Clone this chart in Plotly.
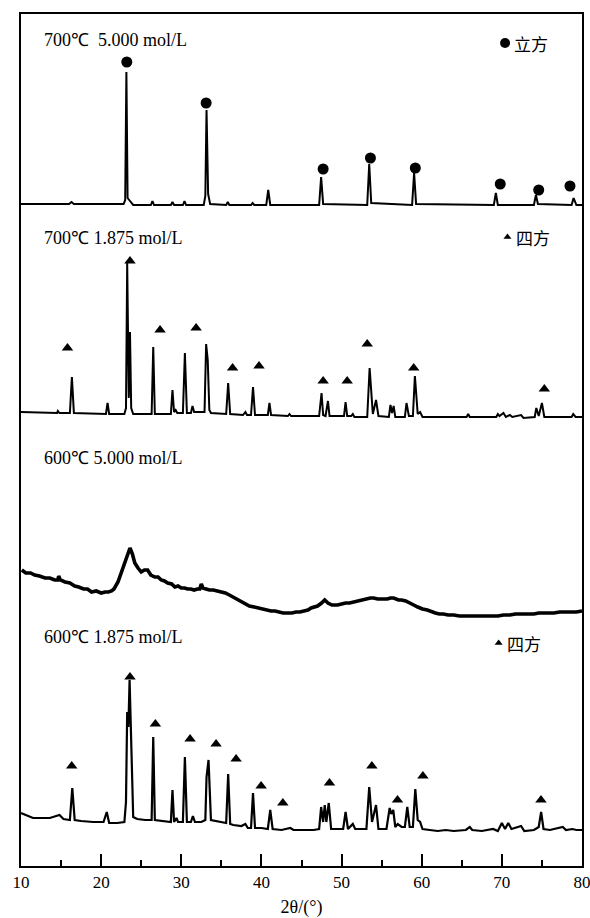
import plotly.graph_objects as go

# ---------------- data (2θ in degrees, intensity in arbitrary units above each pattern's own baseline) ----------------
# 700 °C, 5.000 mol/L
t1_x = [10.0, 16.0, 16.3, 16.6, 22.8, 23.0, 23.15, 23.3, 23.5, 23.7, 24.0, 26.2, 26.4, 26.6, 28.7, 28.9, 29.1,
        30.2, 30.4, 30.6, 32.8, 33.0, 33.15, 33.35, 33.6, 35.6, 35.8, 36.0, 38.7, 38.9, 39.1, 40.6, 40.85, 41.1,
        47.2, 47.45, 47.7, 53.2, 53.45, 53.7, 58.8, 59.05, 59.3, 69.0, 69.25, 69.5, 74.0, 74.25, 74.5, 78.7,
        78.95, 79.3, 80.0]
t1_y = [2, 2, 4, 2, 2, 6, 134, 8, 6, 4, 1, 1, 5, 1, 1, 4, 1,
        1, 5, 1, 1, 10, 96, 12, 2, 1, 4, 1, 1, 3, 1, 1, 16, 1,
        1, 29, 2, 1, 42, 3, 1, 33, 2, 1, 13, 1, 1, 11, 2, 1,
        8, 1, 1]
t1_mark_x = [23.2, 33.1, 47.7, 53.6, 59.2, 69.8, 74.6, 78.5]
t1_mark_y = [144, 103, 37, 48, 38, 22, 16, 20]

# 700 °C, 1.875 mol/L
t2_x = [10.0, 14.5, 14.6, 14.8, 16.1, 16.35, 16.6, 20.6, 20.8, 21.0, 22.9, 23.1, 23.25, 23.45, 23.6, 23.75, 24.0,
        26.3, 26.5, 26.7, 27.8, 28.7, 28.9, 29.1, 29.3, 29.5, 30.2, 30.45, 30.7, 31.2, 31.4, 31.6,
        32.9, 33.1, 33.3, 33.5, 33.7, 35.6, 35.85, 36.1, 37.7, 38.0, 38.2, 38.7, 38.95, 39.2,
        40.8, 41.0, 41.2, 43.3, 43.5, 43.7, 47.2, 47.5, 47.7, 48.0, 48.3, 48.5, 50.3, 50.5, 50.7,
        51.2, 51.4, 51.6, 53.2, 53.5, 53.9, 54.3, 54.6, 55.9, 56.1, 56.3, 56.5, 56.7, 57.9, 58.1, 58.4,
        58.9, 59.15, 59.5, 59.8, 60.1, 65.6, 65.8, 66.0, 69.3, 69.5, 69.7, 70.2, 70.5, 71.0, 71.3, 72.4, 72.7,
        74.1, 74.3, 74.6, 75.0, 75.3, 78.7, 78.9, 79.2, 80.0]
t2_y = [6, 5, 7, 5, 5, 41, 5, 4, 15, 4, 4, 10, 155, 20, 86, 10, 4,
        4, 71, 4, 4, 4, 28, 6, 8, 5, 5, 65, 5, 5, 12, 6,
        6, 74, 58, 8, 5, 4, 35, 4, 3, 6, 3, 3, 31, 3,
        3, 15, 3, 2, 4, 2, 2, 25, 3, 2, 17, 2, 2, 16, 2,
        2, 4, 1, 1, 50, 4, 18, 2, 1, 13, 5, 12, 1, 1, 15, 2,
        2, 42, 4, 6, 1, 1, 4, 1, 1, 4, 2, 5, 1, 3, 1, 3, 0,
        1, 10, 2, 15, 1, 1, 4, 1, 1]
t2_mark_x = [15.8, 23.6, 27.35, 31.85, 36.4, 39.7, 47.7, 50.7, 53.2, 59.0, 75.3]
t2_mark_y = [70, 157, 88, 90, 50, 52, 37, 37, 74, 50, 29]

# 600 °C, 5.000 mol/L (amorphous)
t3_x = [10.1, 10.6, 11.2, 11.7, 12.3, 13.0, 13.6, 14.2, 14.6, 14.7, 14.9, 15.5, 16.1, 16.7, 17.2, 17.8, 18.3,
        18.8, 19.4, 20.0, 20.5, 20.9, 21.3, 21.6, 22.1, 22.5, 22.9, 23.3, 23.6, 23.9,
        24.2, 24.6, 25.0, 25.4, 25.8, 26.2, 26.7, 27.1, 27.5, 27.9, 28.3, 28.8, 29.2, 29.6, 30.0, 30.4,
        30.8, 31.2, 31.6, 32.0, 32.3, 32.5, 32.7, 33.1, 33.5, 34.0, 34.5, 35.0,
        35.5, 36.0, 36.5, 37.0, 37.5, 38.0, 38.5, 39.1, 39.6, 40.1, 40.6, 41.2, 41.7, 42.2, 42.7, 43.2,
        43.8, 44.3, 44.8, 45.3, 45.8, 46.2, 46.6, 47.0, 47.5, 47.9, 48.3, 48.8, 49.2, 49.5,
        50.0, 50.5, 51.0, 51.5, 52.0, 52.5, 53.0, 53.6, 54.0, 54.5, 55.1, 55.7, 56.1, 56.5, 57.1, 57.5,
        58.0, 58.6, 59.0, 59.5, 60.1, 60.7, 61.2, 61.7, 62.2, 62.7, 63.3, 64.0, 64.7, 65.5,
        66.2, 66.9, 67.5, 68.0, 68.7, 69.5, 70.2, 71.0, 71.7, 72.5, 73.2, 74.0, 74.6, 75.2, 75.9, 76.5,
        77.2, 78.0, 78.6, 79.3, 80.0]
t3_y = [50, 47, 47, 45, 44, 42, 42, 40, 40, 44, 40, 38, 37, 34, 33, 31, 31,
        28, 29, 27, 28, 28, 29, 31, 38, 47, 57, 65, 72, 66,
        57, 52, 48, 50, 50, 45, 43, 43, 40, 39, 37, 36, 33, 34, 32, 32,
        31, 31, 30, 31, 31, 36, 32, 31, 30, 30, 29, 28,
        27, 25, 23, 20, 18, 16, 14, 13, 12, 11, 10, 9, 9, 8, 7, 7,
        7, 8, 8, 9, 10, 12, 13, 14, 17, 20, 17, 15, 15, 15,
        16, 17, 17, 18, 19, 20, 21, 22, 22, 21, 21, 21, 22, 22, 20, 20,
        19, 17, 15, 13, 11, 10, 8, 7, 6, 6, 5, 5, 4, 4,
        4, 4, 4, 4, 4, 4, 5, 5, 6, 6, 6, 6, 7, 7, 7, 7,
        8, 8, 8, 8, 9]

# 600 °C, 1.875 mol/L
t4_x = [10.0, 11.5, 13.6, 14.8, 15.3, 16.1, 16.4, 16.7, 17.5, 19.0, 20.3, 20.7, 21.0, 22.0,
        22.9, 23.1, 23.25, 23.4, 23.55, 23.8, 24.0, 24.5, 25.5, 26.3, 26.5, 26.7, 27.5, 28.5, 28.7,
        28.9, 29.1, 29.4, 29.6, 30.2, 30.45, 30.7, 31.2, 31.45, 31.7, 32.5, 33.0, 33.15, 33.4, 33.7,
        35.6, 35.85, 36.1, 36.5, 37.5, 38.0, 38.3, 38.7, 38.95, 39.2, 40.0, 40.8, 41.1, 41.4, 42.5,
        43.6, 44.0, 45.0, 46.5, 47.2, 47.45, 47.7, 47.9, 48.1, 48.4, 48.7, 50.2, 50.5, 50.8, 51.4, 51.7,
        53.1, 53.45, 53.8, 54.3, 54.6, 55.6, 56.0, 56.2, 56.45, 56.7, 57.0, 57.5, 57.9, 58.2, 58.5,
        58.9, 59.2, 59.5, 59.8, 60.1, 61.0, 62.0, 63.0, 64.0, 65.5, 66.0, 66.3, 67.5, 68.9, 69.5,
        70.0, 70.4, 70.8, 71.2, 72.4, 72.8, 74.0, 74.6, 74.9, 75.2, 76.0, 77.6, 78.0, 78.8, 79.3, 80.0]
t4_y = [19, 14, 14, 17, 13, 12, 44, 12, 11, 10, 10, 20, 9, 9,
        10, 30, 120, 105, 152, 60, 15, 13, 12, 12, 95, 12, 11, 10, 10,
        42, 10, 14, 10, 10, 75, 10, 10, 16, 10, 10, 12, 55, 72, 12,
        9, 58, 8, 7, 6, 8, 4, 4, 39, 4, 4, 3, 22, 3, 2,
        4, 2, 2, 2, 3, 25, 10, 27, 10, 29, 3, 3, 20, 3, 8, 3,
        3, 45, 10, 27, 3, 3, 24, 18, 22, 5, 8, 5, 5, 25, 5,
        5, 43, 12, 10, 3, 2, 1, 2, 1, 2, 5, 2, 1, 3, 1,
        9, 3, 9, 3, 6, 1, 2, 5, 20, 3, 2, 5, 2, 3, 2, 2]
t4_mark_x = [16.33, 23.6, 26.77, 31.1, 34.34, 36.84, 39.96, 42.67, 48.49, 53.78, 56.98, 60.15, 74.88]
t4_mark_y = [66, 155, 108, 93, 88, 73, 46, 29, 49, 66, 32, 56, 32]

labels = ["700℃  5.000 mol/L", "700℃ 1.875 mol/L", "600℃ 5.000 mol/L", "600℃ 1.875 mol/L"]
phase_cubic = "立方"
phase_tetra = "四方"
x_ticks = [10, 20, 30, 40, 50, 60, 70, 80]

# ---------------- layout constants (pixel geometry of the stacked panels) ----------------
H = 852  # plot-area height in px; y axis range is in px units from the bottom
offsets = [660, 448, 246, 34]        # baseline of each pattern
label_y = [826, 628, 408, 229]       # label centres
SERIF = "Liberation Serif, Times New Roman, serif"
CJK = "Noto Sans CJK SC"

fig = go.Figure()

def add_line(xs, ys, off, width=2.0):
    fig.add_trace(go.Scatter(x=xs, y=[v + off for v in ys], mode="lines",
                             line=dict(color="black", width=width), hoverinfo="skip"))

def add_marks(xs, ys, off, symbol, size):
    fig.add_trace(go.Scatter(x=xs, y=[v + off for v in ys], mode="markers",
                             marker=dict(symbol=symbol, size=size, color="black",
                                         line=dict(width=0)), hoverinfo="skip"))

add_line(t1_x, t1_y, offsets[0])
add_line(t2_x, t2_y, offsets[1])
add_line(t3_x, t3_y, offsets[2], width=3.6)
add_line(t4_x, t4_y, offsets[3], width=2.2)

add_marks(t1_mark_x, t1_mark_y, offsets[0], "circle", 11)
add_marks(t2_mark_x, t2_mark_y, offsets[1], "triangle-up", 10)
add_marks(t4_mark_x, t4_mark_y, offsets[3], "triangle-up", 10)

# legend-like phase keys
add_marks([70.4], [823 - offsets[0]], offsets[0], "circle", 10)
add_marks([70.7], [629 - offsets[1]], offsets[1], "triangle-up", 7)
add_marks([69.6], [223 - offsets[3]], offsets[3], "triangle-up", 7)

for txt, y in zip(labels, label_y):
    fig.add_annotation(x=12.6, y=y, xref="x", yref="y", text=txt, showarrow=False,
                       xanchor="left", yanchor="middle",
                       font=dict(family=SERIF, size=18, color="black"))

for txt, x, y in [(phase_cubic, 71.3, 823), (phase_tetra, 71.5, 629), (phase_tetra, 70.4, 223)]:
    fig.add_annotation(x=x, y=y, xref="x", yref="y", text=txt, showarrow=False,
                       xanchor="left", yanchor="middle",
                       font=dict(family=CJK, size=17, color="black"))

fig.update_layout(
    width=590, height=918,
    margin=dict(l=21, r=8, t=14, b=52),
    paper_bgcolor="white", plot_bgcolor="white",
    showlegend=False,
    xaxis=dict(range=[10, 80], tickvals=x_ticks, ticktext=[str(v) for v in x_ticks],
               automargin=False, ticklabeloverflow="allow",
               ticks="inside", ticklen=12, tickwidth=1.8, tickcolor="black",
               minor=dict(dtick=5, tick0=0, ticks="inside", ticklen=6, tickwidth=1.5, tickcolor="black"),
               showline=True, linecolor="black", linewidth=2, mirror=True,
               showgrid=False, zeroline=False,
               tickfont=dict(family=SERIF, size=17, color="black"),
               title=dict(text="2θ/(°)", font=dict(family=SERIF, size=18, color="black"), standoff=9)),
    yaxis=dict(range=[0, H], showticklabels=False, ticks="", showgrid=False, zeroline=False,
               automargin=False,
               showline=True, linecolor="black", linewidth=2, mirror=True, fixedrange=True),
)

fig.write_html("out.html", post_script="document.body.style.margin='0px';",
               config={"displayModeBar": False})
